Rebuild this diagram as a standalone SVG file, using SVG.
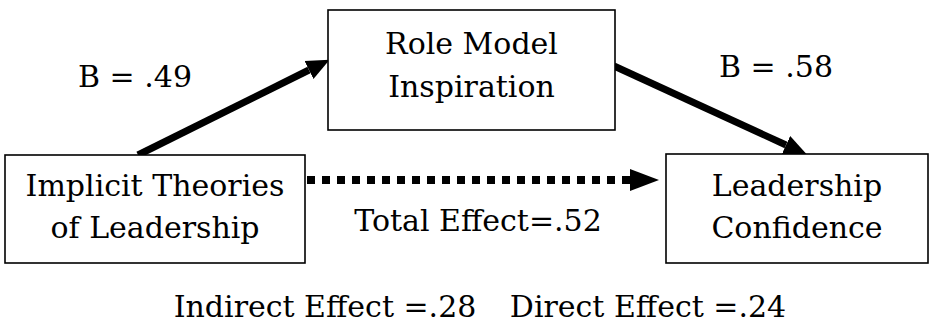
<svg xmlns="http://www.w3.org/2000/svg" width="932" height="329" viewBox="0 0 932 329">
<style>
.box{fill:#fff;stroke:#000;stroke-width:1.6}
text{font-family:"DejaVu Serif","Liberation Serif",serif;font-size:30px;fill:#000;text-anchor:middle}
.arr{stroke:#000;stroke-width:7;fill:none}
</style>
<defs>
<marker id="head" markerUnits="userSpaceOnUse" markerWidth="24" markerHeight="22" refX="0" refY="10" orient="auto" viewBox="0 0 24 20">
<path d="M0,0 L23,10 L0,20 z" fill="#000"/>
</marker>
</defs>
<rect width="932" height="329" fill="#fff"/>
<g id="connectors">
<line class="arr" x1="138" y1="155" x2="309" y2="70" marker-end="url(#head)"/>
<line class="arr" x1="614" y1="66" x2="786" y2="145" marker-end="url(#head)"/>
<line x1="307" y1="180" x2="631" y2="180" stroke="#000" stroke-width="8" stroke-dasharray="8 7"/>
<path d="M630,169 L659,180 L630,191 z" fill="#000"/>
</g>
<g id="node-implicit">
<rect class="box" x="5" y="155" width="300" height="108"/>
<text x="155" y="196">Implicit Theories</text>
<text x="155" y="238">of Leadership</text>
</g>
<g id="node-rolemodel">
<rect class="box" x="328" y="10" width="287" height="120"/>
<text x="471.5" y="54">Role Model</text>
<text x="471.5" y="97">Inspiration</text>
</g>
<g id="node-confidence">
<rect class="box" x="666" y="154" width="262" height="109"/>
<text x="797" y="196">Leadership</text>
<text x="797" y="238">Confidence</text>
</g>
<g id="labels">
<text x="135" y="87">B = .49</text>
<text x="776" y="77">B = .58</text>
<text x="478" y="231">Total Effect=.52</text>
<text x="325" y="317">Indirect Effect =.28</text>
<text x="648" y="317">Direct Effect =.24</text>
</g>
</svg>
